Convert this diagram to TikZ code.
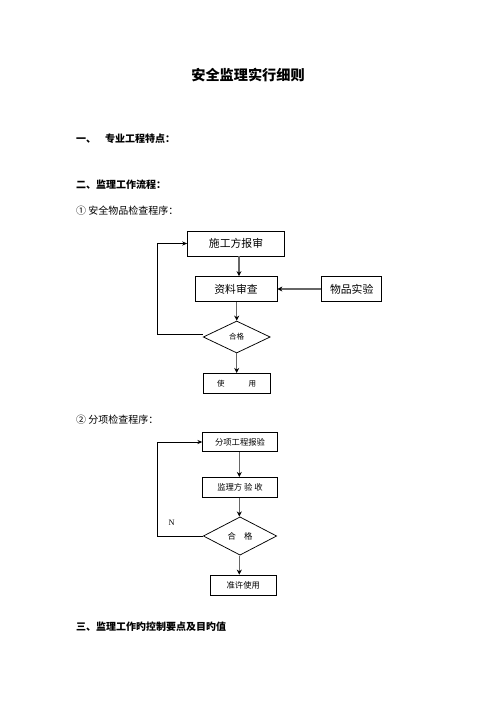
\documentclass[tikz,border=0pt]{standalone}
\usepackage{fontspec}
\setmainfont{Noto Sans CJK SC}
\newfontfamily\latinfont{Liberation Serif}
\usepackage{tikz}
\usetikzlibrary{shapes.geometric,arrows.meta}

\tikzset{
  stepbox/.style={draw, line width=0.9pt, inner sep=0pt},
  check/.style={draw, line width=0.9pt, diamond, inner sep=0pt},
  flow/.style={-{Stealth[length=6pt,width=6pt,color=black]}, draw=black!60, line width=1.8pt},
  loopback/.style={-{Stealth[length=6pt,width=5pt]}, line width=0.9pt},
  head/.style={anchor=west, inner sep=0pt, font=\bfseries\fontsize{12}{14}\selectfont}
}

\begin{document}
\begin{tikzpicture}[x=1.2pt, y=-1.2pt]
    \useasboundingbox (0,0) rectangle (496,702);

    % Title and headings
    \node[inner sep=0pt, font=\bfseries\fontsize{17}{20}\selectfont] (title) at (248,75) {安全监理实行细则};
    \node[head] (sec1) at (76,139) {一、\hspace{0.9em}专业工程特点：};
    \node[head] (sec2) at (76,185) {二、监理工作流程：};
    \node[anchor=west, inner sep=0pt, font=\fontsize{12}{14}\selectfont] (sub1) at (76,211) {① 安全物品检查程序：};

    % Chart 1
    \node[stepbox, minimum width=97*1.2pt, minimum height=25*1.2pt, font=\fontsize{13}{15}\selectfont] (report) at (236,243.5) {施工方报审};
    \node[stepbox, minimum width=82*1.2pt, minimum height=25*1.2pt, font=\fontsize{13}{15}\selectfont] (review) at (236,289) {资料审查};
    \node[stepbox, minimum width=60*1.2pt, minimum height=25*1.2pt, font=\fontsize{13}{15}\selectfont] (test) at (351.7,289) {物品实验};
    \node[check, minimum width=67*1.2pt, minimum height=32*1.2pt, aspect=2.1, font=\fontsize{9}{11}\selectfont] (ok1) at (236.7,337) {合格};
    \node[stepbox, minimum width=67*1.2pt, minimum height=20*1.2pt, font=\fontsize{9}{11}\selectfont] (use) at (236.7,383.3) {使\hspace{3.2em}用};
    \coordinate (back1) at (157,334);

    \draw[flow] (report.south -| 239,0) -- (review.north -| 239,0);
    \draw[flow] (review.south -| ok1.north) -- (ok1.north);
    \draw[flow] (ok1.south) -- (use.north -| ok1.south);
    \draw[flow] (test.west) -- (review.east);
    \draw[line width=0.9pt] (ok1.west |- back1) -- (back1);
    \draw[loopback] (back1) |- (report.west);

    % Chart 2
    \node[anchor=west, inner sep=0pt, font=\fontsize{12}{14}\selectfont] (sub2) at (76,420) {② 分项检查程序：};
    \node[stepbox, minimum width=74.6*1.2pt, minimum height=19.4*1.2pt, font=\fontsize{10}{12}\selectfont] (apply) at (240,442) {分项工程报验};
    \node[stepbox, minimum width=74.6*1.2pt, minimum height=20*1.2pt, font=\fontsize{10}{12}\selectfont] (accept) at (240,487.3) {监理方 验 收};
    \node[check, minimum width=73.4*1.2pt, minimum height=38.3*1.2pt, aspect=1.9, font=\fontsize{10}{12}\selectfont] (ok2) at (240,536) {合\hspace{1em}格};
    \node[stepbox, minimum width=66.7*1.2pt, minimum height=20*1.2pt, font=\fontsize{10}{12}\selectfont] (allow) at (243.3,585) {准许使用};
    \coordinate (back2) at (157.3,536);
    \node[inner sep=0pt, font=\latinfont\fontsize{10}{12}\selectfont] (no) at (171.7,523) {N};

    \draw[flow] (apply.south -| 239.3,0) -- (accept.north -| 239.3,0);
    \draw[flow] (accept.south -| 239.3,0) -- (ok2.north -| 239.3,0);
    \draw[flow] (ok2.south -| 239.3,0) -- (allow.north -| 239.3,0);
    \draw[line width=0.9pt] (ok2.west) -- (back2);
    \draw[loopback] (back2) |- (apply.west);

    % Last heading
    \node[head] (sec3) at (76,627) {三、监理工作旳控制要点及目旳值};
\end{tikzpicture}
\end{document}
